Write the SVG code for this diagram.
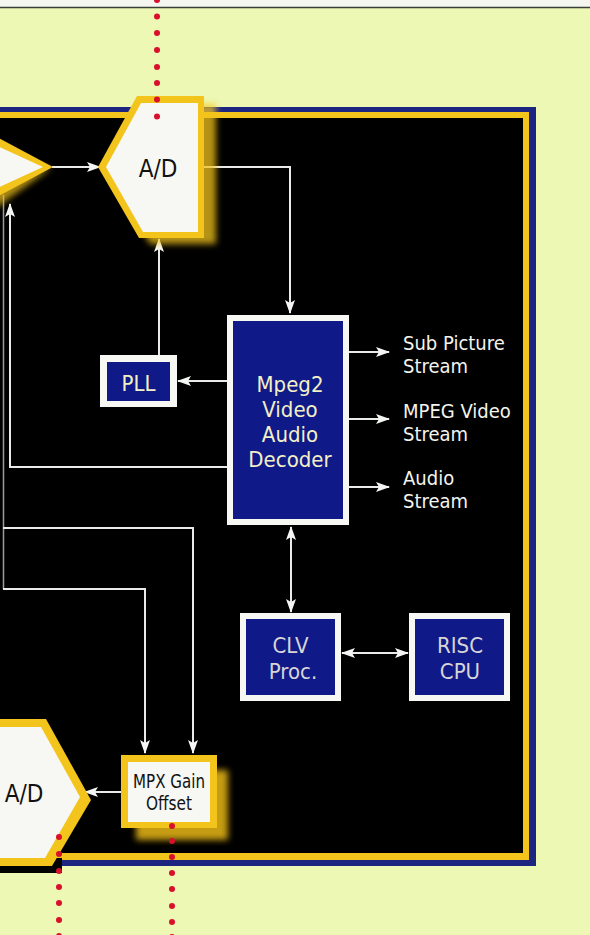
<svg xmlns="http://www.w3.org/2000/svg" width="590" height="935" viewBox="0 0 590 935">
<style>
.t{font-family:'DejaVu Sans Condensed','DejaVu Sans',sans-serif;font-stretch:condensed;text-anchor:middle}
.cream{fill:#f3efc6;font-size:22px}
.gray{fill:#d8d5d6;font-size:22px}
.lbl{fill:#f4f4ee;font-size:20px;font-family:'DejaVu Sans Condensed','DejaVu Sans',sans-serif;font-stretch:condensed}
.blk{fill:#111;font-size:24px}
.wire{fill:none;stroke:#e8ebe8;stroke-width:2}
.dot{fill:#d8102c}
.navy{fill:#0f1a88}
.wb{fill:#f7f7f4}
</style>
<defs>
<marker id="ah" markerUnits="userSpaceOnUse" markerWidth="14" markerHeight="11" refX="13" refY="5" orient="auto-start-reverse" viewBox="0 0 14 10">
<path d="M0,0 L14,5 L0,10 L3,5 z" fill="#f4f6f4"/>
</marker>
<filter id="blur" x="-20%" y="-20%" width="140%" height="140%"><feGaussianBlur stdDeviation="3"/></filter>
</defs>
<rect x="0" y="0" width="590" height="935" fill="#edf8b4"/>
<rect x="0" y="0" width="590" height="7" fill="#f5f6ef"/>
<line x1="0" y1="7.5" x2="590" y2="7.5" stroke="#3a3f3a" stroke-width="1.5"/>
<g id="panel">
<rect x="-10" y="107" width="546" height="759" fill="#1c2680"/>
<rect x="-10" y="112" width="539" height="748" fill="#f3c41c"/>
<rect x="-10" y="118" width="533" height="735" fill="#000"/>
</g>
<g id="connectors">
<line class="wire" x1="52" y1="167" x2="100" y2="167" marker-end="url(#ah)"/>
<polyline class="wire" points="204,167 290,167 290,313" marker-end="url(#ah)"/>
<line class="wire" x1="159" y1="355" x2="159" y2="239" marker-end="url(#ah)"/>
<line class="wire" x1="227" y1="381" x2="178" y2="381" marker-end="url(#ah)"/>
<polyline class="wire" points="227,467 10,467 10,204" marker-end="url(#ah)"/>
<line class="wire" x1="349" y1="352" x2="389" y2="352" marker-end="url(#ah)"/>
<line class="wire" x1="349" y1="419" x2="389" y2="419" marker-end="url(#ah)"/>
<line class="wire" x1="349" y1="487" x2="389" y2="487" marker-end="url(#ah)"/>
<line class="wire" x1="291" y1="527" x2="291" y2="612" marker-start="url(#ah)" marker-end="url(#ah)"/>
<line class="wire" x1="342" y1="653" x2="408" y2="653" marker-start="url(#ah)" marker-end="url(#ah)"/>
<line x1="3.5" y1="195" x2="3.5" y2="589" stroke="#9a9c9a" stroke-width="1.5"/>
<polyline class="wire" points="3,528 193,528 193,753" marker-end="url(#ah)"/>
<polyline class="wire" points="3,589 145,589 145,753" marker-end="url(#ah)"/>
<line class="wire" x1="121" y1="792" x2="85" y2="792" marker-end="url(#ah)"/>
</g>
<g id="ad-left">
<polygon points="-20,186 53,167 -10,212" fill="#f3c41c" opacity="0.7" filter="url(#blur)"/>
<polygon points="-20,128 53,167 -20,206" fill="#f3c41c"/>
<polygon points="-20,138 43,167 -20,196" class="wb"/>
</g>
<g id="ad-top">
<polygon points="110,173 147,104 216,104 216,244 150,244" fill="#f3c41c" opacity="0.75" filter="url(#blur)"/>
<polygon points="98,167 137,96 204,96 204,238 139,238" fill="#f3c41c"/>
<polygon points="106,167 141,103 198,103 198,232 143,232" class="wb"/>
<text class="t blk" x="158" y="177">A/D</text>
</g>
<g id="pll">
<rect x="100" y="355" width="77" height="52" class="wb"/>
<rect x="107" y="362" width="63" height="39" class="navy"/>
<text class="t cream" x="138.5" y="391">PLL</text>
</g>
<g id="decoder">
<rect x="227" y="315" width="122" height="210" class="wb"/>
<rect x="233" y="321" width="110" height="198" class="navy"/>
<text class="t cream" x="290" y="392">Mpeg2</text>
<text class="t cream" x="290" y="417">Video</text>
<text class="t cream" x="290" y="442">Audio</text>
<text class="t cream" x="290" y="467">Decoder</text>
</g>
<g id="outputs">
<text class="lbl" x="403" y="350">Sub Picture</text>
<text class="lbl" x="403" y="373">Stream</text>
<text class="lbl" x="403" y="418">MPEG Video</text>
<text class="lbl" x="403" y="441">Stream</text>
<text class="lbl" x="403" y="485">Audio</text>
<text class="lbl" x="403" y="508">Stream</text>
</g>
<g id="clv">
<rect x="240" y="613" width="101" height="88" class="wb"/>
<rect x="246" y="619" width="89" height="76" class="navy"/>
<text class="t gray" x="290.5" y="653">CLV</text>
<text class="t gray" x="293" y="679">Proc.</text>
</g>
<g id="risc">
<rect x="409" y="613" width="101" height="88" class="wb"/>
<rect x="415" y="619" width="89" height="76" class="navy"/>
<text class="t gray" x="460" y="653">RISC</text>
<text class="t gray" x="460" y="679">CPU</text>
</g>
<g id="mpx">
<rect x="136" y="770" width="92" height="70" fill="#e8b818" opacity="0.85" filter="url(#blur)"/>
<rect x="121" y="755" width="96" height="73" fill="#f3c41c"/>
<rect x="128" y="762" width="82" height="60" class="wb"/>
<text class="t blk" x="169" y="788" style="font-size:19px" textLength="72" lengthAdjust="spacingAndGlyphs">MPX Gain</text>
<text class="t blk" x="169" y="810" style="font-size:19px" textLength="46" lengthAdjust="spacingAndGlyphs">Offset</text>
</g>
<g id="ad-bottom">
<polygon points="-10,858 62,858 62,873 -10,873" fill="#000"/>
<polygon points="-10,719 46,719 91,800 52,866 -10,866" fill="#f3c41c"/>
<polygon points="-10,727 41,727 80,797 45,858 -10,858" class="wb"/>
<text class="t blk" x="24" y="802">A/D</text>
</g>
<g id="dots">
<circle class="dot" cx="157" cy="0" r="3"/>
<circle class="dot" cx="157" cy="16.5" r="3"/>
<circle class="dot" cx="157" cy="33" r="3"/>
<circle class="dot" cx="157" cy="50" r="3"/>
<circle class="dot" cx="157" cy="67" r="3"/>
<circle class="dot" cx="157" cy="83" r="3"/>
<circle class="dot" cx="157" cy="99.5" r="3"/>
<circle class="dot" cx="157" cy="116.5" r="3"/>
<circle class="dot" cx="59" cy="837" r="3"/>
<circle class="dot" cx="59" cy="854" r="3"/>
<circle class="dot" cx="59" cy="871" r="3"/>
<circle class="dot" cx="59" cy="887" r="3"/>
<circle class="dot" cx="59" cy="903" r="3"/>
<circle class="dot" cx="59" cy="920" r="3"/>
<circle class="dot" cx="59" cy="936" r="3"/>
<circle class="dot" cx="172" cy="826" r="3"/>
<circle class="dot" cx="172" cy="841" r="3"/>
<circle class="dot" cx="172" cy="857" r="3"/>
<circle class="dot" cx="172" cy="873" r="3"/>
<circle class="dot" cx="172" cy="889" r="3"/>
<circle class="dot" cx="172" cy="906" r="3"/>
<circle class="dot" cx="172" cy="922" r="3"/>
<circle class="dot" cx="172" cy="937" r="3"/>
</g>
</svg>
